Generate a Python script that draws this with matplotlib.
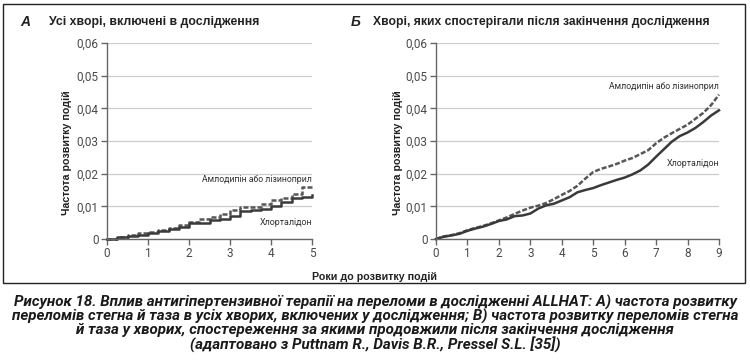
import matplotlib
matplotlib.use("Agg")
import matplotlib.pyplot as plt

# ---------------- data ----------------
t_a = [0, 0.25, 0.5, 0.75, 1.0, 1.25, 1.5, 1.75, 2.0, 2.25, 2.5, 2.75, 3.0,
       3.25, 3.5, 3.75, 4.0, 4.25, 4.5, 4.75, 5.0]
chlor_a = [0, 0.0005, 0.001, 0.0013, 0.0018, 0.0025, 0.003, 0.0037, 0.0048,
           0.005, 0.0058, 0.0062, 0.007, 0.0085, 0.0089, 0.0092, 0.010,
           0.0112, 0.0125, 0.013, 0.0134]
amlo_a = [0, 0.0007, 0.0012, 0.0017, 0.0022, 0.0028, 0.0034, 0.0042, 0.0052,
          0.006, 0.0068, 0.0078, 0.0088, 0.0097, 0.0099, 0.0108, 0.0118,
          0.0127, 0.0137, 0.0158, 0.0165]

t_b = [0, 0.25, 0.5, 0.75, 1.0, 1.25, 1.5, 1.75, 2.0, 2.25, 2.5, 2.75, 3.0,
       3.25, 3.5, 3.75, 4.0, 4.25, 4.5, 4.75, 5.0, 5.25, 5.5, 5.75, 6.0,
       6.25, 6.5, 6.75, 7.0, 7.25, 7.5, 7.75, 8.0, 8.25, 8.5, 8.75, 9.0]
chlor_b = [0, 0.0007, 0.0011, 0.0016, 0.0025, 0.0032, 0.0038, 0.0046, 0.0055,
           0.006, 0.007, 0.0072, 0.0078, 0.0093, 0.0103, 0.0108, 0.0118,
           0.0128, 0.0143, 0.015, 0.0156, 0.0165, 0.0173, 0.0181, 0.0188,
           0.0198, 0.021, 0.0228, 0.0252, 0.0275, 0.0298, 0.0315, 0.0326,
           0.034, 0.0358, 0.0378, 0.0394]
amlo_b = [0, 0.0008, 0.0012, 0.0018, 0.0027, 0.0034, 0.004, 0.0048, 0.0057,
          0.0066, 0.0077, 0.0087, 0.0096, 0.0102, 0.011, 0.0122, 0.0135,
          0.0147, 0.0163, 0.0185, 0.0205, 0.0215, 0.0222, 0.023, 0.024,
          0.0248, 0.026, 0.0272, 0.0293, 0.031, 0.0324, 0.0337, 0.035,
          0.0368, 0.0386, 0.041, 0.0442]

y_ticks = [0, 0.01, 0.02, 0.03, 0.04, 0.05, 0.06]
y_ticklabels = ["0", "0,01", "0,02", "0,03", "0,04", "0,05", "0,06"]
xa_ticks = [0, 1, 2, 3, 4, 5]
xb_ticks = [0, 1, 2, 3, 4, 5, 6, 7, 8, 9]

label_amlo = "Амлодипін або лізиноприл"
label_chlor = "Хлорталідон"
title_a = "Усі хворі, включені в дослідження"
title_b = "Хворі, яких спостерігали після закінчення дослідження"
ylabel = "Частота розвитку подій"
xlabel = "Роки до розвитку подій"
caption_lines = [
    "Рисунок 18. Вплив антигіпертензивної терапії на переломи в дослідженні ALLHAT: А) частота розвитку",
    "переломів стегна й таза в усіх хворих, включених у дослідження; В) частота розвитку переломів стегна",
    "й таза у хворих, спостереження за якими продовжили після закінчення дослідження",
    "(адаптовано з Puttnam R., Davis B.R., Pressel S.L. [35])",
]

narrow = "Roboto"
regular = "Liberation Sans"

fig = plt.figure(figsize=(7.5, 3.64), dpi=100)
W, H = 750, 364

def fx(px):
    return px / W

def fy(py):
    return 1 - py / H

renderer = fig.canvas.get_renderer()

def fit(txt, target_w):
    for _ in range(3):
        w = txt.get_window_extent(renderer).width
        txt.set_fontsize(txt.get_fontsize() * target_w / w)

# border
fig.patches.append(plt.Rectangle((fx(3), fy(283)), fx(745) - fx(3), fy(4) - fy(283),
                                 transform=fig.transFigure, fill=False,
                                 edgecolor="#222222", linewidth=1.0))

ax_a = fig.add_axes([fx(107), fy(239), fx(312) - fx(107), fy(43) - fy(239)])
ax_b = fig.add_axes([fx(436), fy(239), fx(719) - fx(436), fy(43) - fy(239)])

solid_col = "#3a3a3a"
dash_col = "#575757"

def style(ax, xticks, xmax, ylab_x):
    ax.set_xlim(0, xmax)
    ax.set_ylim(0, 0.06)
    ax.set_yticks(y_ticks)
    ax.set_yticklabels(y_ticklabels)
    ax.set_xticks(xticks)
    ax.set_xticklabels([str(v) for v in xticks])
    for s in ["top", "right"]:
        ax.spines[s].set_visible(False)
    for s in ["left", "bottom"]:
        ax.spines[s].set_color("#666666")
        ax.spines[s].set_linewidth(1.0)
    ax.tick_params(axis="both", colors="#666666", labelcolor="#4a4a4a",
                   length=4, width=1.0, direction="out", pad=2)
    for lab in ax.get_xticklabels() + ax.get_yticklabels():
        lab.set_fontfamily(narrow)
        lab.set_fontsize(8.5)
    ax.grid(axis="y", color="#cccccc", linewidth=0.9)
    ax.set_axisbelow(True)
    yl = ax.set_ylabel(ylabel, fontfamily=regular, fontweight="bold", fontsize=9,
                       color="#222222")
    ax.yaxis.set_label_coords(ylab_x, 0.44)
    ax.patch.set_alpha(0)
    return yl

yl_a = style(ax_a, xa_ticks, 5, (72 - 107) / 205)
yl_b = style(ax_b, xb_ticks, 9, (403 - 436) / 283)

# panel A: visible steps; panel B: fine-grained, nearly smooth
ax_a.plot(t_a, amlo_a, drawstyle="steps-post", color=dash_col, linewidth=1.8,
          dashes=(2.0, 0.8), clip_on=False)
ax_a.plot(t_a, chlor_a, drawstyle="steps-post", color=solid_col, linewidth=1.8,
          clip_on=False)
ax_b.plot(t_b, amlo_b, color=dash_col, linewidth=1.8, dashes=(2.0, 0.8),
          clip_on=False)
ax_b.plot(t_b, chlor_b, color=solid_col, linewidth=1.8, clip_on=False)

ann = dict(fontfamily=narrow, fontsize=8, color="#333333", ha="right", va="center")
t1 = ax_a.text(5, 0.0182, label_amlo, **ann)
t2 = ax_a.text(5, 0.0052, label_chlor, **ann)
t3 = ax_b.text(9, 0.0468, label_amlo, **ann)
t4 = ax_b.text(9, 0.0232, label_chlor, **ann)
fit(t1, 112); fit(t3, 112); fit(t2, 53); fit(t4, 53)

# titles
fig.text(fx(20), fy(22), "А", fontfamily=regular, fontweight="bold", style="italic",
         fontsize=10, color="#222222", va="center")
ta = fig.text(fx(49), fy(22), title_a, fontfamily=regular, fontweight="bold",
              fontsize=10, color="#222222", va="center")
fig.text(fx(351), fy(22), "Б", fontfamily=regular, fontweight="bold", style="italic",
         fontsize=10, color="#222222", va="center")
tb = fig.text(fx(373), fy(22), title_b, fontfamily=regular, fontweight="bold",
              fontsize=10, color="#222222", va="center")
fit(ta, 211); fit(tb, 337)

xl = fig.text(fx(374), fy(277), xlabel, fontfamily=regular, fontweight="bold",
              fontsize=9, color="#222222", ha="center", va="center")
fit(xl, 124)
for yl in (yl_a, yl_b):
    yl.set_fontsize(xl.get_fontsize())

cap_y = [302, 316, 330, 344]
texts = []
for line, y in zip(caption_lines, cap_y):
    texts.append(fig.text(fx(375), fy(y), line, fontfamily=narrow, fontweight="bold",
                          style="italic", fontsize=10, color="#1a1a1a",
                          ha="center", va="center"))
fit(texts[0], 721)
for tx in texts[1:]:
    tx.set_fontsize(texts[0].get_fontsize())

fig.savefig("out.png", dpi=100)
